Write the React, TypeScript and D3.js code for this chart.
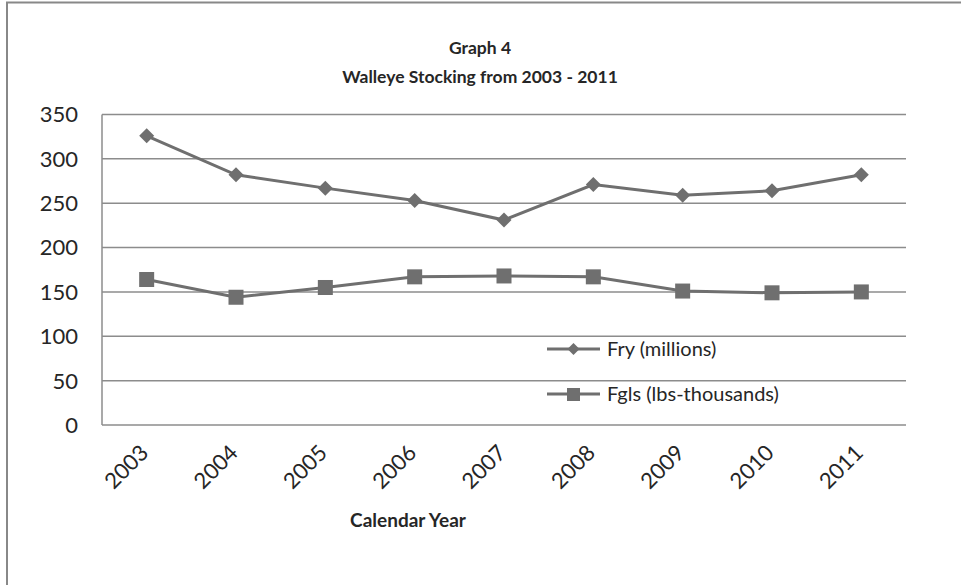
import React from "react";
import * as d3 from "d3";

const years = ["2003", "2004", "2005", "2006", "2007", "2008", "2009", "2010", "2011"];
const fry = [326, 282, 267, 253, 231, 271, 259, 264, 282];
const fgls = [164, 144, 155, 167, 168, 167, 151, 149, 150];
const yTicks = [0, 50, 100, 150, 200, 250, 300, 350];
const seriesNames = ["Fry (millions)", "Fgls (lbs-thousands)"];

const W = 961;
const H = 585;
const left = 102;
const right = 906;
const top = 114.5;
const bottom = 425;
const gray = "#6f6f6f";
const grid = "#8c8c8c";
const textCol = "#262626";
const font = "Lato, 'Open Sans', sans-serif";

export default function App() {
  const x = d3.scaleBand<string>().domain(years).range([left, right]);
  const y = d3.scaleLinear().domain([0, 350]).range([bottom, top]);
  const cx = (d: string) => (x(d) as number) + x.bandwidth() / 2;
  const line = d3
    .line<number>()
    .x((_, i) => cx(years[i]))
    .y((v) => y(v));
  const diamond = (px: number, py: number, r: number) =>
    `M${px},${py - r}L${px + r},${py}L${px},${py + r}L${px - r},${py}Z`;

  return (
    <svg
      width={W}
      height={H}
      style={{ position: "absolute", left: 0, top: 0, background: "#fff" }}
    >
      <rect x={7} y={2.5} width={1000} height={700} fill="#fff" stroke="#888" strokeWidth={2} />
      <text x={480} y={54} textAnchor="middle" fontFamily={font} fontWeight="bold" fontSize={17.5} fill={textCol}>
        Graph 4
      </text>
      <text x={480} y={83} textAnchor="middle" fontFamily={font} fontWeight="bold" fontSize={17.5} fill={textCol}>
        Walleye Stocking from 2003 - 2011
      </text>
      {yTicks.map((t) => (
        <g key={t}>
          <line x1={left} x2={right} y1={y(t)} y2={y(t)} stroke={grid} strokeWidth={1.5} />
          <text x={78} y={y(t)} dy="0.36em" textAnchor="end" fontFamily={font} fontSize={22} fill={textCol}>
            {t}
          </text>
        </g>
      ))}
      <line x1={left} x2={left} y1={top} y2={bottom} stroke={grid} strokeWidth={1.5} />
      {years.map((yr) => (
        <text
          key={yr}
          transform={`translate(${cx(yr) - 8},${443}) rotate(-45)`}
          textAnchor="end"
          dy="0.72em"
          fontFamily={font}
          fontSize={22}
          fill={textCol}
        >
          {yr}
        </text>
      ))}
      <text x={408} y={527} textAnchor="middle" fontFamily={font} fontWeight="bold" fontSize={19} fill={textCol}>
        Calendar Year
      </text>
      <path d={line(fry) || ""} fill="none" stroke={gray} strokeWidth={3} />
      {fry.map((v, i) => (
        <path key={i} d={diamond(cx(years[i]), y(v), 7.5)} fill={gray} />
      ))}
      <path d={line(fgls) || ""} fill="none" stroke={gray} strokeWidth={3} />
      {fgls.map((v, i) => (
        <rect key={i} x={cx(years[i]) - 7.5} y={y(v) - 7.5} width={15} height={15} fill={gray} />
      ))}
      {/* legend */}
      <line x1={547} x2={600} y1={349} y2={349} stroke={gray} strokeWidth={3} />
      <path d={diamond(573.5, 349, 6)} fill={gray} />
      <text x={607} y={349} dy="0.36em" fontFamily={font} fontSize={20} fill={textCol}>
        {seriesNames[0]}
      </text>
      <line x1={547} x2={600} y1={394} y2={394} stroke={gray} strokeWidth={3} />
      <rect x={567} y={388} width={13} height={13} fill={gray} />
      <text x={607} y={394} dy="0.36em" fontFamily={font} fontSize={20} fill={textCol}>
        {seriesNames[1]}
      </text>
    </svg>
  );
}
